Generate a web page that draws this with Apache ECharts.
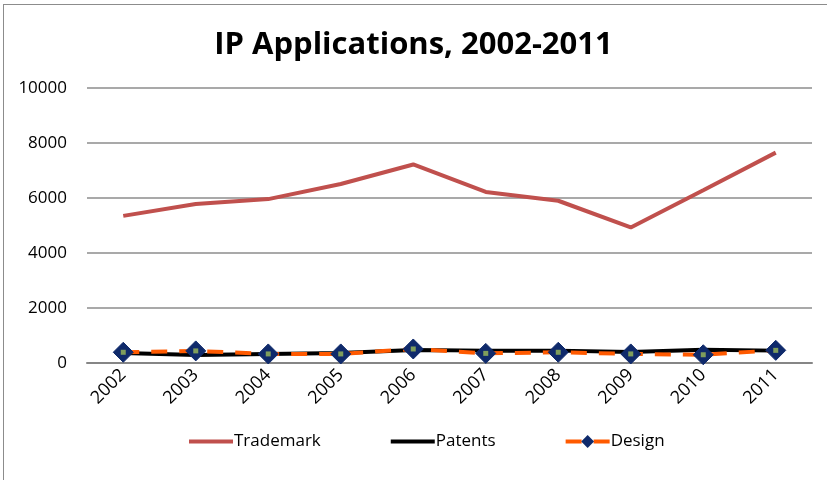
<!DOCTYPE html>
<html>
<head>
<meta charset="utf-8">
<script src="https://cdn.jsdelivr.net/npm/echarts@6/dist/echarts.min.js"></script>
<style>
  html, body { margin: 0; padding: 0; background: #fff; }
  #frame { position: absolute; left: 3px; top: 4px; width: 840px; height: 500px;
           border-left: 1px solid #8c8c8c; border-top: 1px solid #8c8c8c; }
  #chart { position: absolute; left: 0; top: 0; width: 827px; height: 480px; }
</style>
</head>
<body>
<div id="frame"></div>
<div id="chart"></div>
<script>
var years = ["2002", "2003", "2004", "2005", "2006", "2007", "2008", "2009", "2010", "2011"];
var trademark = [5350, 5780, 5960, 6510, 7220, 6220, 5900, 4930, 6280, 7650];
var patents = [360, 290, 330, 360, 470, 450, 450, 400, 480, 450];
var design = [390, 440, 330, 330, 510, 350, 390, 330, 300, 460];
var yTicks = [0, 2000, 4000, 6000, 8000, 10000];

var font = "'Open Sans', 'Noto Sans', sans-serif";
var chart = echarts.init(document.getElementById("chart"));
chart.setOption({
  animation: false,
  title: {
    text: "IP Applications, 2002-2011",
    left: "center",
    top: 25,
    textStyle: { fontFamily: font, fontSize: 31, fontWeight: "bold", color: "#000" }
  },
  legend: {
    bottom: 25,
    left: 182,
    itemGap: 68,
    itemWidth: 44,
    itemHeight: 16,
    lineStyle: { width: 4 },
    textStyle: { fontFamily: font, fontSize: 17, color: "#000", padding: [0, 0, 0, -4] },
    data: [
      { name: "Trademark", itemStyle: { opacity: 0 } },
      { name: "Patents", itemStyle: { opacity: 0 } },
      { name: "Design" }
    ]
  },
  grid: { left: 87, right: 15, top: 88, bottom: 117 },
  xAxis: {
    type: "category",
    data: years,
    boundaryGap: true,
    axisLine: { lineStyle: { color: "#868686", width: 2 } },
    axisTick: { show: false },
    axisLabel: { rotate: 45, fontFamily: font, fontSize: 18, color: "#000", margin: 9 }
  },
  yAxis: {
    type: "value",
    min: yTicks[0],
    max: yTicks[yTicks.length - 1],
    interval: 2000,
    axisLine: { show: false },
    axisTick: { show: false },
    splitLine: { lineStyle: { color: "#8c8c8c", width: 1.5 } },
    axisLabel: { fontFamily: font, fontSize: 17, color: "#000", margin: 20,
                 formatter: function (v) { return String(v); } }
  },
  series: [
    {
      name: "Trademark",
      type: "line",
      data: trademark,
      symbol: "none",
      color: "#C0504D",
      lineStyle: { width: 4, color: "#C0504D" }
    },
    {
      name: "Design",
      type: "line",
      data: design,
      symbol: "diamond",
      symbolSize: 20,
      color: "#0F2A6B",
      itemStyle: { color: "#0F2A6B", borderColor: "#0F2A6B" },
      lineStyle: { width: 4, color: "#FF5A00", type: [16, 12] },
      z: 4
    },
    {
      name: "Patents",
      type: "line",
      data: patents,
      symbol: "none",
      color: "#000",
      lineStyle: { width: 4, color: "#000" },
      z: 3
    },
    {
      name: "DesignDot",
      type: "scatter",
      data: design,
      symbol: "rect",
      symbolSize: 5,
      itemStyle: { color: "#9BBB59" },
      silent: true,
      z: 5
    }
  ]
});
</script>
</body>
</html>
